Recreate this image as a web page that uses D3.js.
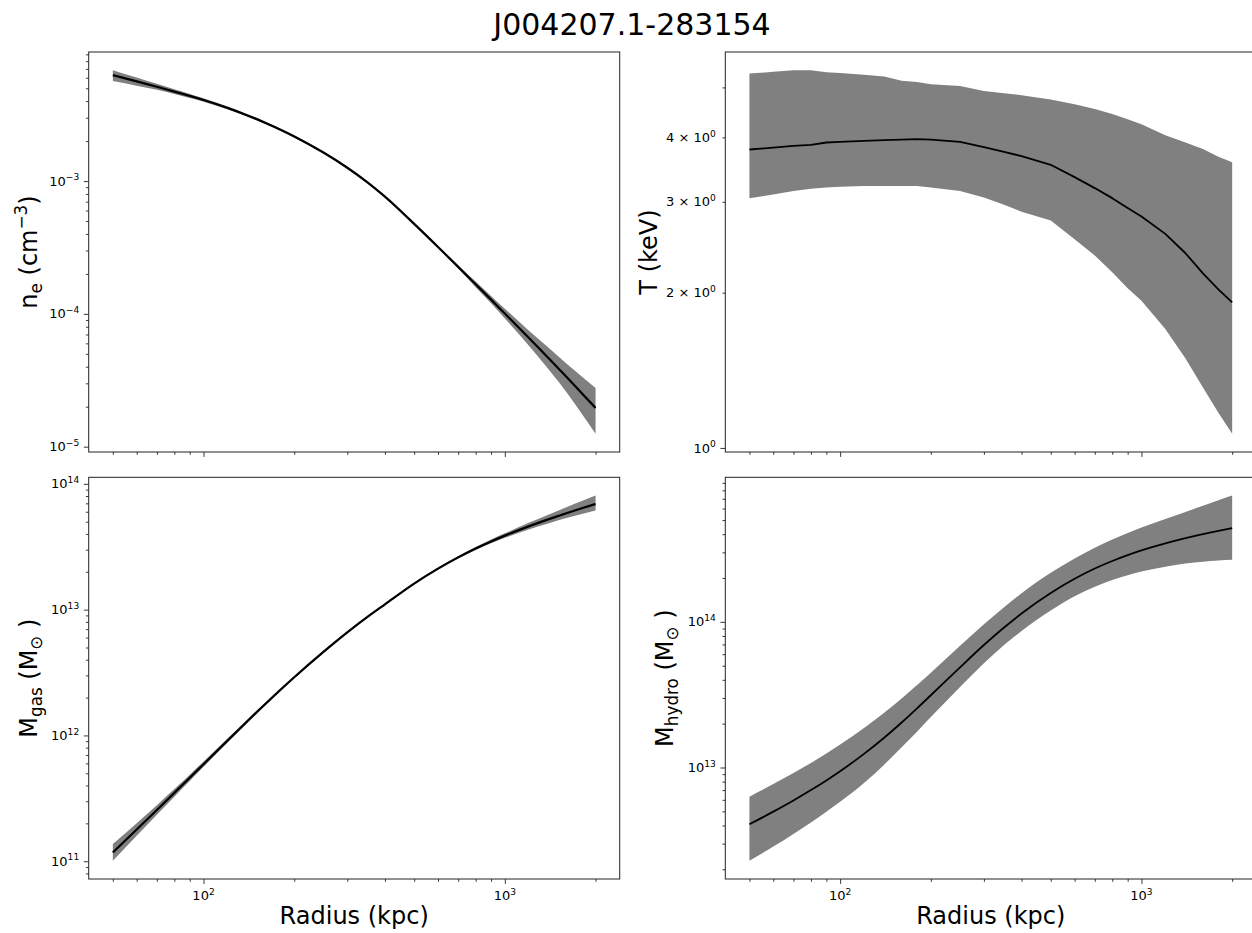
<!DOCTYPE html>
<html>
<head>
<meta charset="utf-8">
<script src="https://cdn.jsdelivr.net/npm/d3@7"></script>
<style>
  body { margin: 0; background: #fff; }
  text { font-family: "DejaVu Sans", sans-serif; fill: #000; }
</style>
</head>
<body>
<svg id="fig" width="1252" height="933"></svg>
<script>
// radii (kpc) shared by all four panels
var radius = [50, 60, 70, 80, 90, 100, 120, 140, 160, 180, 200, 250, 300, 350, 400, 500, 600, 700, 800, 900, 1000, 1200, 1400, 1600, 1800, 2000];

// electron density (cm^-3)
var neMid = [6.28e-3, 5.63e-3, 5.13e-3, 4.72e-3, 4.38e-3, 4.08e-3, 3.56e-3, 3.12e-3, 2.75e-3, 2.44e-3, 2.17e-3, 1.64e-3, 1.26e-3, 9.78e-4, 7.63e-4, 4.76e-4, 3.19e-4, 2.26e-4, 1.67e-4, 1.28e-4, 1.005e-4, 6.61e-5, 4.61e-5, 3.36e-5, 2.53e-5, 1.96e-5];
var neLo  = [5.66e-3, 5.23e-3, 4.87e-3, 4.53e-3, 4.23e-3, 3.96e-3, 3.47e-3, 3.05e-3, 2.69e-3, 2.40e-3, 2.13e-3, 1.61e-3, 1.237e-3, 9.60e-4, 7.49e-4, 4.67e-4, 3.12e-4, 2.20e-4, 1.59e-4, 1.20e-4, 9.23e-5, 5.78e-5, 3.79e-5, 2.58e-5, 1.77e-5, 1.25e-5];
var neHi  = [6.84e-3, 6.02e-3, 5.40e-3, 4.92e-3, 4.53e-3, 4.20e-3, 3.65e-3, 3.19e-3, 2.81e-3, 2.49e-3, 2.21e-3, 1.67e-3, 1.283e-3, 9.96e-4, 7.77e-4, 4.85e-4, 3.26e-4, 2.32e-4, 1.75e-4, 1.365e-4, 1.094e-4, 7.50e-5, 5.54e-5, 4.23e-5, 3.37e-5, 2.77e-5];

// temperature (keV)
var tMid = [3.79, 3.82, 3.85, 3.87, 3.91, 3.92, 3.94, 3.95, 3.96, 3.97, 3.96, 3.92, 3.83, 3.75, 3.68, 3.54, 3.35, 3.19, 3.05, 2.92, 2.81, 2.60, 2.385, 2.18, 2.03, 1.915];
var tLo  = [3.05, 3.10, 3.15, 3.18, 3.20, 3.21, 3.22, 3.22, 3.22, 3.22, 3.20, 3.15, 3.06, 2.96, 2.87, 2.76, 2.54, 2.36, 2.19, 2.04, 1.93, 1.70, 1.49, 1.31, 1.17, 1.065];
var tHi  = [5.32, 5.36, 5.40, 5.40, 5.35, 5.33, 5.29, 5.25, 5.15, 5.12, 5.07, 5.03, 4.92, 4.87, 4.83, 4.74, 4.64, 4.54, 4.44, 4.34, 4.24, 4.04, 3.91, 3.80, 3.67, 3.58];

// gas mass (Msun)
var mgasMid = [1.175e11, 1.787e11, 2.556e11, 3.493e11, 4.607e11, 5.908e11, 9.087e11, 1.303e12, 1.772e12, 2.307e12, 2.903e12, 4.617e12, 6.601e12, 8.762e12, 1.103e13, 1.612e13, 2.118e13, 2.604e13, 3.061e13, 3.484e13, 3.877e13, 4.592e13, 5.243e13, 5.842e13, 6.395e13, 6.917e13];
var mgasLo  = [1.009e11, 1.593e11, 2.342e11, 3.260e11, 4.349e11, 5.629e11, 8.738e11, 1.262e12, 1.724e12, 2.249e12, 2.837e12, 4.522e12, 6.481e12, 8.603e12, 1.083e13, 1.583e13, 2.075e13, 2.545e13, 2.977e13, 3.366e13, 3.720e13, 4.335e13, 4.871e13, 5.352e13, 5.766e13, 6.137e13];
var mgasHi  = [1.368e11, 2.005e11, 2.790e11, 3.743e11, 4.880e11, 6.200e11, 9.450e11, 1.346e12, 1.822e12, 2.366e12, 2.971e12, 4.714e12, 6.724e12, 8.925e12, 1.124e13, 1.642e13, 2.162e13, 2.665e13, 3.147e13, 3.606e13, 4.041e13, 4.898e13, 5.709e13, 6.510e13, 7.292e13, 8.071e13];

// hydrostatic mass (Msun)
var mhydMid = [4.074e12, 4.979e12, 5.943e12, 6.996e12, 8.154e12, 9.432e12, 1.240e13, 1.601e13, 2.037e13, 2.548e13, 3.133e13, 4.874e13, 6.932e13, 9.146e13, 1.140e14, 1.576e14, 1.975e14, 2.323e14, 2.619e14, 2.874e14, 3.095e14, 3.458e14, 3.758e14, 4.006e14, 4.214e14, 4.396e14];
var mhydLo  = [2.29e12, 2.865e12, 3.50e12, 4.196e12, 4.972e12, 5.816e12, 7.823e12, 1.046e13, 1.377e13, 1.763e13, 2.218e13, 3.572e13, 5.197e13, 6.938e13, 8.647e13, 1.195e14, 1.498e14, 1.741e14, 1.941e14, 2.092e14, 2.216e14, 2.393e14, 2.512e14, 2.587e14, 2.641e14, 2.674e14];
var mhydHi  = [6.31e12, 7.71e12, 9.16e12, 1.074e13, 1.249e13, 1.438e13, 1.868e13, 2.380e13, 2.978e13, 3.683e13, 4.477e13, 6.855e13, 9.634e13, 1.262e14, 1.573e14, 2.175e14, 2.727e14, 3.228e14, 3.674e14, 4.079e14, 4.453e14, 5.093e14, 5.689e14, 6.264e14, 6.836e14, 7.365e14];

// tick labels: [value, mantissa, exponent]
var xTickLabels    = [[100, "", "2"], [1000, "", "3"]];
var neTickLabels   = [[1e-3, "", "\u22123"], [1e-4, "", "\u22124"], [1e-5, "", "\u22125"]];
var tTickLabels    = [[1, "", "0"], [2, "2", "0"], [3, "3", "0"], [4, "4", "0"]];
var mgasTickLabels = [[1e11, "", "11"], [1e12, "", "12"], [1e13, "", "13"], [1e14, "", "14"]];
var mhydTickLabels = [[1e13, "", "13"], [1e14, "", "14"]];

var title = "J004207.1-283154";

var svg = d3.select("#fig");
var tickFont = 13, labelFont = 24;

// matplotlib-like 5% padding in log space
function logPad(lo, hi) {
  var a = Math.log10(lo), b = Math.log10(hi), m = (b - a) * 0.05;
  return [Math.pow(10, a - m), Math.pow(10, b + m)];
}

function decadeTicks(domain, ks) {
  var out = [];
  var a = Math.floor(Math.log10(domain[0])), b = Math.ceil(Math.log10(domain[1]));
  for (var e = a; e <= b; e++) {
    ks.forEach(function(k) {
      var v = k * Math.pow(10, e);
      if (v >= domain[0] && v <= domain[1]) out.push(v);
    });
  }
  return out;
}

function powLabel(sel, mant, exp) {
  sel.append("tspan").text(mant ? mant + " \u00d7 10" : "10");
  sel.append("tspan").attr("dy", -tickFont * 0.42).attr("font-size", tickFont * 0.7).text(exp);
}

var xDomain = logPad(d3.min(radius), d3.max(radius));

function drawPanel(p) {
  var g = svg.append("g")
      .attr("transform", "translate(" + p.left + "," + p.top + ")");

  var x = d3.scaleLog().domain(xDomain).range([0, p.width]);
  var yDomain = logPad(d3.min(p.lo), d3.max(p.hi));
  var y = d3.scaleLog().domain(yDomain).range([p.height, 0]);

  var rows = radius.map(function(r, i) {
    return {r: r, lo: p.lo[i], hi: p.hi[i], mid: p.mid[i]};
  });
  var curve = p.rough ? d3.curveLinear : d3.curveMonotoneX;

  g.append("path")
      .datum(rows)
      .attr("fill", "#808080")
      .attr("d", d3.area()
        .x(function(d) { return x(d.r); })
        .y0(function(d) { return y(d.lo); })
        .y1(function(d) { return y(d.hi); })
        .curve(curve));

  g.append("path")
      .datum(rows)
      .attr("fill", "none")
      .attr("stroke", "#000")
      .attr("stroke-width", p.lw)
      .attr("stroke-linejoin", "round")
      .attr("d", d3.line()
        .x(function(d) { return x(d.r); })
        .y(function(d) { return y(d.mid); })
        .curve(curve));

  // ticks
  var xMajor = decadeTicks(xDomain, [1]), xMinor = decadeTicks(xDomain, [2, 3, 4, 5, 6, 7, 8, 9]);
  var yMajor = decadeTicks(yDomain, [1]), yMinor = decadeTicks(yDomain, [2, 3, 4, 5, 6, 7, 8, 9]);

  [[xMajor, 4.9], [xMinor, 2.8]].forEach(function(t) {
    g.append("g")
        .attr("class", "axis")
        .attr("transform", "translate(0," + p.height + ")")
        .call(d3.axisBottom(x).tickValues(t[0]).tickSize(t[1]).tickFormat(""));
  });
  [[yMajor, 4.9], [yMinor, 2.8]].forEach(function(t) {
    g.append("g")
        .attr("class", "axis")
        .call(d3.axisLeft(y).tickValues(t[0]).tickSize(t[1]).tickFormat(""));
  });
  g.selectAll(".axis .domain").remove();
  g.selectAll(".axis line").attr("stroke", "#222").attr("stroke-width", 0.9);

  // frame
  g.append("rect")
      .attr("width", p.width)
      .attr("height", p.height)
      .attr("fill", "none")
      .attr("stroke", "#222")
      .attr("stroke-width", 1);

  // tick labels
  p.yLabels.forEach(function(t) {
    var txt = g.append("text")
        .attr("x", -9.5)
        .attr("y", y(t[0]) + 4.6)
        .attr("text-anchor", "end")
        .attr("font-size", tickFont);
    powLabel(txt, t[1], t[2]);
  });
  if (p.showX) {
    xTickLabels.forEach(function(t) {
      var txt = g.append("text")
          .attr("x", x(t[0]))
          .attr("y", p.height + 21)
          .attr("text-anchor", "middle")
          .attr("font-size", tickFont);
      powLabel(txt, t[1], t[2]);
    });
    g.append("text")
        .attr("x", p.width / 2)
        .attr("y", p.height + 45)
        .attr("text-anchor", "middle")
        .attr("font-size", labelFont)
        .text("Radius (kpc)");
  }

  // y label
  var yl = g.append("text")
      .attr("transform", "translate(" + p.ylabelX + "," + (p.height / 2) + ") rotate(-90)")
      .attr("text-anchor", "middle")
      .attr("font-size", labelFont);
  p.ylabel.forEach(function(s) {
    var ts = yl.append("tspan").text(s[0]);
    if (s[1] === "sub") ts.attr("font-size", labelFont * 0.7).attr("dy", 5);
    if (s[1] === "sup") ts.attr("font-size", labelFont * 0.7).attr("dy", -10);
    if (s[1] === "up") ts.attr("dy", -5);
    if (s[1] === "down") ts.attr("dy", 10);
  });
}

var W = 531;

drawPanel({left: 88.7, top: 52, width: W, height: 400, mid: neMid, lo: neLo, hi: neHi, lw: 2.2,
  yLabels: neTickLabels, showX: false, ylabelX: -52,
  ylabel: [["n"], ["e", "sub"], [" (cm", "up"], ["\u22123", "sup"], [")", "down"]]});

drawPanel({left: 725.3, top: 52, width: W, height: 400, mid: tMid, lo: tLo, hi: tHi, lw: 1.8, rough: true,
  yLabels: tTickLabels, showX: false, ylabelX: -68,
  ylabel: [["T (keV)"]]});

drawPanel({left: 88.7, top: 477.3, width: W, height: 401.7, mid: mgasMid, lo: mgasLo, hi: mgasHi, lw: 2.2,
  yLabels: mgasTickLabels, showX: true, ylabelX: -52,
  ylabel: [["M"], ["gas", "sub"], [" (M", "up"], ["\u2299", "sub"], [" )", "up"]]});

drawPanel({left: 725.3, top: 477.3, width: W, height: 401.7, mid: mhydMid, lo: mhydLo, hi: mhydHi, lw: 1.8,
  yLabels: mhydTickLabels, showX: true, ylabelX: -52,
  ylabel: [["M"], ["hydro", "sub"], [" (M", "up"], ["\u2299", "sub"], [" )", "up"]]});

svg.append("text")
    .attr("x", 632)
    .attr("y", 35)
    .attr("text-anchor", "middle")
    .attr("font-size", 30)
    .text(title);
</script>
</body>
</html>
